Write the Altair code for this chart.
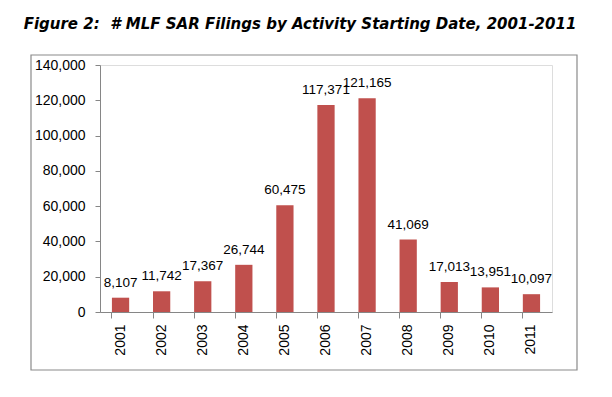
import altair as alt
import pandas as pd

years = ["2001", "2002", "2003", "2004", "2005", "2006", "2007", "2008", "2009", "2010", "2011"]
filings = [8107, 11742, 17367, 26744, 60475, 117371, 121165, 41069, 17013, 13951, 10097]
y_ticks = [0, 20000, 40000, 60000, 80000, 100000, 120000, 140000]

df = pd.DataFrame({"year": years, "filings": filings})

LABEL_FONT = "Liberation Sans"

x_enc = alt.X("year:N", sort=years, title=None,
              scale=alt.Scale(paddingInner=0.58, paddingOuter=0.29),
              axis=alt.Axis(labelAngle=-90, labelAlign="right", labelBaseline="middle",
                            labelFont=LABEL_FONT, labelFontSize=14, labelColor="#000000",
                            labelPadding=6, tickSize=6, bandPosition=0, labelOverlap=False,
                            domainColor="#868686", tickColor="#868686", grid=False))
y_enc = alt.Y("filings:Q", title=None,
              scale=alt.Scale(domain=[0, 140000], nice=False),
              axis=alt.Axis(values=y_ticks, format=",d", labelFont=LABEL_FONT, labelFontSize=14,
                            labelColor="#000000", labelPadding=10, tickSize=5, labelOverlap=False,
                            domainColor="#868686", tickColor="#868686", grid=False))

base = alt.Chart(df).encode(x=x_enc, y=y_enc)

bars = base.mark_bar(color="#C0504D")

labels = base.mark_text(baseline="bottom", dy=-8, font=LABEL_FONT, fontSize=13.5,
                        color="#000000").encode(text=alt.Text("filings:Q", format=",d"))

border = alt.Chart(alt.Data(values=[{}])).mark_rect(
    fill=None, stroke="#8a8a8a", strokeWidth=1.2).encode(
    x=alt.value(-69), x2=alt.value(477), y=alt.value(-10), y2=alt.value(305))

chart = alt.layer(border, bars, labels).properties(
    width=452, height=247,
    padding={"left": 92, "top": 57, "right": 30, "bottom": 60},
    autosize=alt.AutoSizeParams(type="none"),
    title=alt.TitleParams("Figure 2:\u00a0 # MLF SAR Filings by Activity Starting Date, 2001-2011",
                          font="DejaVu Sans", fontSize=15, fontWeight="bold", fontStyle="italic",
                          color="#000000", anchor="middle", dx=-26, offset=22),
).configure_view(stroke=None).configure(background="#ffffff")

chart.save("out.html", embed_options={"renderer": "svg", "actions": False})
